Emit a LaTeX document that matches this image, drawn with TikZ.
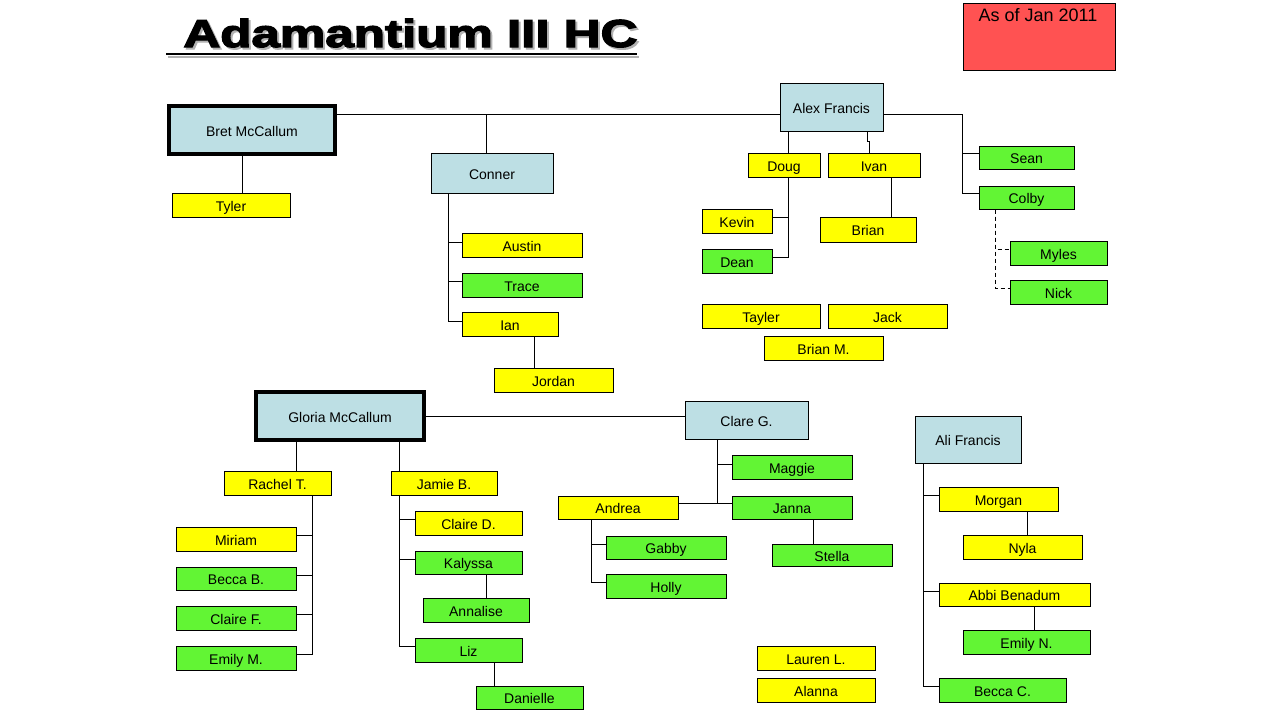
\documentclass[tikz,border=0pt]{standalone}
\usepackage{fontspec}
\setmainfont{Liberation Sans}
\newfontfamily\titlefont{Liberation Sans Bold}[FakeBold=3]
\usetikzlibrary{calc}
\definecolor{yelc}{RGB}{255,255,0}
\definecolor{grnc}{RGB}{98,245,52}
\definecolor{bluc}{RGB}{189,223,228}
\definecolor{redc}{RGB}{255,82,82}
\newcommand\obox[7]{\node[#6, minimum width={(#4-#2)*0.5pt}, minimum height={(#5-#3)*0.5pt}] (#1) at ({(#2+#4)/2},{(#3+#5)/2}) {#7};}
\begin{document}
\begin{tikzpicture}[x=0.5pt,y=-0.5pt,
  obx/.style={draw=black, line width=0.5pt, inner sep=0pt, font=\fontsize{7}{8}\selectfont, text height=6.4pt, text depth=0.1pt},
  yel/.style={obx, fill=yelc},
  grn/.style={obx, fill=grnc},
  blu/.style={obx, fill=bluc},
  boss/.style={obx, fill=bluc, line width=2pt},
  conn/.style={draw=black, line width=0.5pt},
  dconn/.style={conn, dash pattern=on 2pt off 1.5pt},
  titletext/.style={font=\titlefont\fontsize{19.5}{24}\selectfont, inner sep=0pt, anchor=base west}
]
\fill[white] (0,0) rectangle (1280,720);
\useasboundingbox (0,0) rectangle (1280,720);

% title
\node[titletext, text=black!30] (tshadow) at (185,49) {\scalebox{1.31}[1]{Adamantium III HC}};
\node[titletext] (title) at (183,47) {\scalebox{1.31}[1]{Adamantium III HC}};
\draw[line width=1.2pt, black!30] (168,57) -- (639,57);
\draw[line width=1.2pt] (166,54) -- (637,54);

% date box
\node[draw=black, line width=0.5pt, fill=redc, inner sep=0pt, minimum width=76pt, minimum height=33.5pt] (asof) at (1039,36.5) {};
\node[anchor=base, inner sep=0pt, font=\fontsize{9}{10}\selectfont] (asoftext) at (1038,21) {As of Jan 2011};

% top family
\obox{bret}{169}{106}{335}{154}{boss}{Bret McCallum}
\obox{conner}{431}{153}{553}{193}{blu}{Conner}
\obox{alex}{780}{83}{883}{131}{blu}{Alex Francis}
\obox{tyler}{172}{193}{290}{217}{yel}{Tyler}
\obox{doug}{748}{153}{820}{177}{yel}{Doug}
\obox{ivan}{828}{153}{920}{177}{yel}{Ivan}
\obox{kevin}{702}{209}{772}{233}{yel}{Kevin}
\obox{dean}{702}{249}{772}{273}{grn}{Dean}
\obox{brian}{820}{217}{916}{242}{yel}{Brian}
\obox{sean}{979}{146}{1074}{169}{grn}{Sean}
\obox{colby}{979}{186}{1074}{209}{grn}{Colby}
\obox{myles}{1010}{241}{1107}{265}{grn}{Myles}
\obox{nick}{1010}{280}{1107}{304}{grn}{Nick}
\obox{austin}{462}{233}{582}{257}{yel}{Austin}
\obox{trace}{462}{273}{582}{297}{grn}{Trace}
\obox{ian}{462}{312}{558}{336}{yel}{Ian}
\obox{jordan}{494}{368}{613}{392}{yel}{Jordan}
\obox{tayler}{702}{304}{820}{328}{yel}{Tayler}
\obox{jack}{828}{304}{947}{328}{yel}{Jack}
\obox{brianm}{764}{336}{883}{360}{yel}{Brian M.}

% bottom family
\obox{gloria}{256}{392}{424}{440}{boss}{Gloria McCallum}
\obox{clare}{685}{401}{808}{439}{blu}{Clare G.}
\obox{ali}{915}{416}{1021}{463}{blu}{Ali Francis}
\obox{rachel}{224}{471}{331}{495}{yel}{Rachel T.}
\obox{jamie}{391}{471}{497}{495}{yel}{Jamie B.}
\obox{miriam}{176}{527}{296}{551}{yel}{Miriam}
\obox{beccab}{176}{567}{296}{590}{grn}{Becca B.}
\obox{clairef}{176}{606}{296}{630}{grn}{Claire F.}
\obox{emilym}{176}{646}{296}{670}{grn}{Emily M.}
\obox{claired}{415}{511}{522}{535}{yel}{Claire D.}
\obox{kalyssa}{415}{551}{522}{574}{grn}{Kalyssa}
\obox{annalise}{423}{598}{529}{622}{grn}{Annalise}
\obox{liz}{415}{638}{522}{662}{grn}{Liz}
\obox{danielle}{476}{686}{583}{709}{grn}{Danielle}
\obox{maggie}{732}{455}{852}{479}{grn}{Maggie}
\obox{janna}{732}{496}{852}{519}{grn}{Janna}
\obox{andrea}{558}{496}{678}{519}{yel}{Andrea}
\obox{gabby}{606}{536}{726}{559}{grn}{Gabby}
\obox{holly}{606}{574}{726}{598}{grn}{Holly}
\obox{stella}{772}{544}{892}{566}{grn}{Stella}
\obox{morgan}{939}{487}{1058}{511}{yel}{Morgan}
\obox{nyla}{963}{535}{1082}{559}{yel}{Nyla}
\obox{abbi}{939}{583}{1090}{606}{yel}{Abbi Benadum}
\obox{emilyn}{963}{630}{1090}{654}{grn}{Emily N.}
\obox{beccac}{939}{678}{1066}{702}{grn}{Becca C.}
\obox{lauren}{757}{646}{875}{670}{yel}{Lauren L.}
\obox{alanna}{757}{678}{875}{702}{yel}{Alanna}

% connectors, top
\coordinate (trunk) at ([yshift=8pt]bret.east);
\draw[conn] (trunk) -- ([yshift=-3.5pt]alex.west);
\coordinate (cU) at ([xshift=-3pt]conner.north);
\draw[conn] (cU) -- (cU |- trunk);
\draw[conn] ([xshift=-5pt]bret.south) -- ([xshift=5.5pt]tyler.north);
\coordinate (cD) at ([xshift=-22pt]conner.south);
\draw[conn] (cD) |- ([yshift=1.5pt]austin.west);
\draw[conn] (cD) |- ([yshift=2pt]trace.west);
\draw[conn] (cD) |- ([yshift=1.5pt]ian.west);
\draw[conn] ([xshift=12pt]ian.south) -- ([xshift=-9.75pt]jordan.north);
\draw[conn] ([xshift=-21.75pt]alex.south) -- ([xshift=2pt]doug.north);
\draw[conn] ([xshift=17.75pt]alex.south) -- ++(0,10) -| ([xshift=-2.5pt]ivan.north);
\draw[conn] ([yshift=-3.5pt]alex.east) -| ([xshift=-8pt,yshift=2.25pt]colby.west) -- ([yshift=2.25pt]colby.west);
\draw[conn] ([xshift=-8pt,yshift=2.25pt]sean.west) -- ([yshift=2.25pt]sean.west);
\draw[conn] ([xshift=2pt]doug.south) |- ([yshift=2pt]kevin.east);
\draw[conn] ([xshift=2pt]doug.south) |- ([yshift=2pt]dean.east);
\draw[conn] ([xshift=8.5pt]ivan.south) -- ([xshift=11.5pt]brian.north);
\draw[dconn] ([xshift=-15.75pt]colby.south) |- ([yshift=2pt]myles.west);
\draw[dconn] ([xshift=-15.75pt]colby.south) |- ([yshift=2pt]nick.west);

% connectors, bottom
\draw[conn] (gloria.east) -- ([yshift=2pt]clare.west);
\draw[conn] ([xshift=-22pt]gloria.south) -- ([xshift=9.25pt]rachel.north);
\draw[conn] ([xshift=29.5pt]gloria.south) -- ([xshift=-22.5pt]jamie.north);
\coordinate (rD) at ([xshift=17.25pt]rachel.south);
\draw[conn] (rD) |- ([yshift=2pt]miriam.east);
\draw[conn] (rD) |- ([yshift=1.75pt]beccab.east);
\draw[conn] (rD) |- ([yshift=2pt]clairef.east);
\draw[conn] (rD) |- ([yshift=2pt]emilym.east);
\coordinate (jD) at ([xshift=-22.5pt]jamie.south);
\draw[conn] (jD) |- ([yshift=2pt]claired.west);
\draw[conn] (jD) |- ([yshift=1.75pt]kalyssa.west);
\draw[conn] (jD) |- ([yshift=2pt]liz.west);
\draw[conn] ([xshift=8.75pt]kalyssa.south) -- ([xshift=5pt]annalise.north);
\draw[conn] ([xshift=12.75pt]liz.south) -- ([xshift=-17.75pt]danielle.north);
\coordinate (clD) at ([xshift=-14.75pt]clare.south);
\draw[conn] (clD) |- ([yshift=1.5pt]maggie.west);
\draw[conn] (clD) |- ([yshift=2.25pt]janna.west);
\draw[conn] ([yshift=2.25pt]andrea.east) -- ([yshift=2.25pt]janna.west);
\coordinate (aD) at ([xshift=-13.5pt]andrea.south);
\draw[conn] (aD) |- ([yshift=1.75pt]gabby.west);
\draw[conn] (aD) |- ([yshift=2pt]holly.west);
\draw[conn] ([xshift=10.5pt]janna.south) -- ([xshift=-9.5pt]stella.north);
\coordinate (alD) at ([xshift=-22.5pt]ali.south);
\draw[conn] (alD) |- ([yshift=2pt]morgan.west);
\draw[conn] (alD) |- ([yshift=1.75pt]abbi.west);
\draw[conn] (alD) |- ([yshift=2pt]beccac.west);
\draw[conn] ([xshift=14.25pt]morgan.south) -- ([xshift=2.25pt]nyla.north);
\draw[conn] ([xshift=9.75pt]abbi.south) -- ([xshift=3.75pt]emilyn.north);
\end{tikzpicture}
\end{document}
